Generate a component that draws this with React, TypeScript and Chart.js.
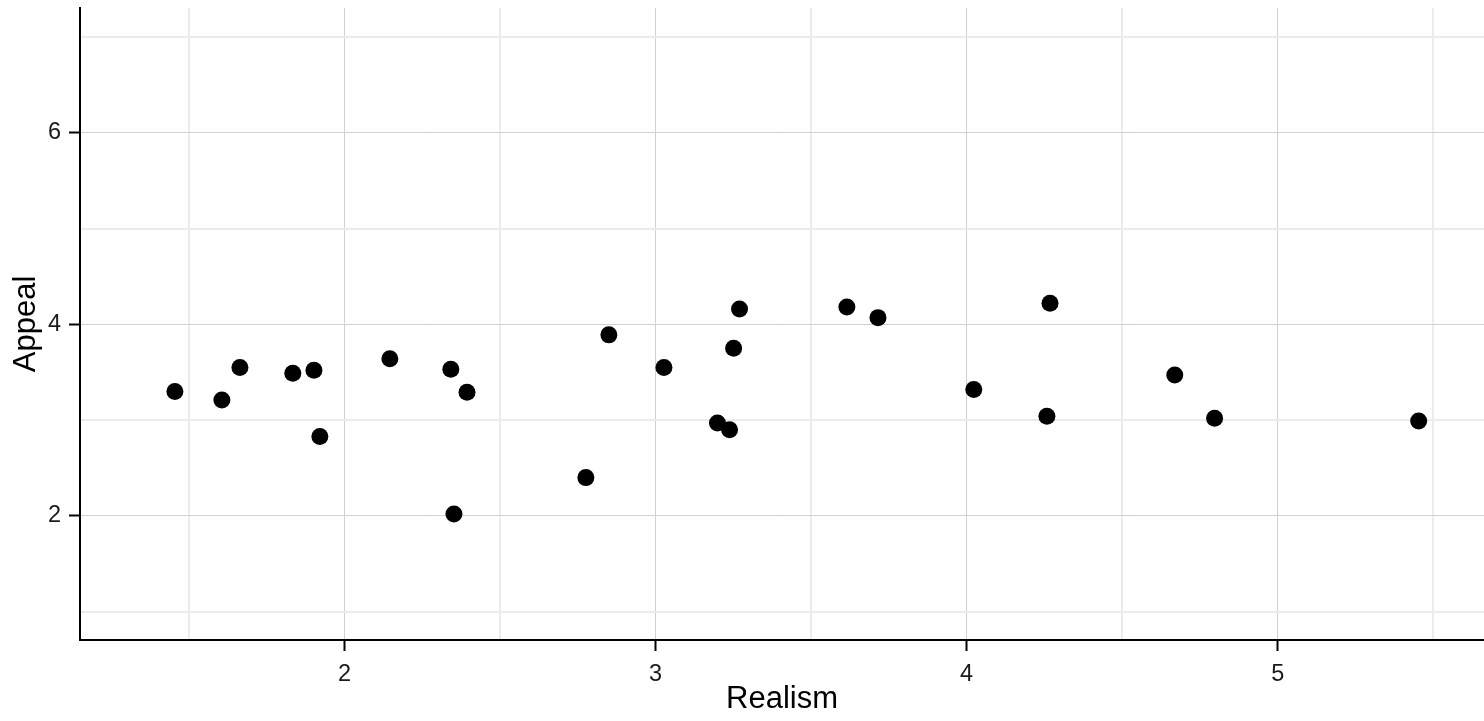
import React, { useEffect, useRef } from "react";
import { Chart, registerables } from "chart.js";

Chart.register(...registerables);

const realism: number[] = [
  1.455, 1.606, 1.664, 1.834, 1.902, 1.921, 2.146, 2.342, 2.352, 2.394,
  2.776, 2.85, 3.027, 3.199, 3.238, 3.251, 3.27, 3.615, 3.715, 4.023,
  4.258, 4.268, 4.669, 4.797, 5.453,
];
const appeal: number[] = [
  3.3, 3.21, 3.55, 3.49, 3.52, 2.83, 3.64, 3.53, 2.02, 3.29,
  2.4, 3.89, 3.55, 2.97, 2.9, 3.75, 4.16, 4.18, 4.07, 3.32,
  3.04, 4.22, 3.47, 3.02, 2.99,
];
const xTickLabels: number[] = [2, 3, 4, 5];
const yTickLabels: number[] = [2, 4, 6];
const xTitle = "Realism";
const yTitle = "Appeal";

const FONT = "'Liberation Sans', Arial, Helvetica, sans-serif";
const MAJOR = "#d0d0d0";
const MINOR = "#ebebeb";

function isIn(list: number[], v: number) {
  return list.some((t) => Math.abs(t - v) < 1e-6);
}

export default function App() {
  const ref = useRef<HTMLCanvasElement | null>(null);

  useEffect(() => {
    if (!ref.current) return;
    const points = realism.map((x, i) => ({ x, y: appeal[i] }));
    const chart = new Chart(ref.current, {
      type: "scatter",
      data: {
        datasets: [
          {
            data: points,
            backgroundColor: "#000000",
            borderWidth: 0,
            pointRadius: 8.5,
            pointHoverRadius: 8.5,
          },
        ],
      },
      options: {
        animation: false,
        responsive: false,
        layout: { autoPadding: false, padding: { top: 8, left: 0, right: 0, bottom: 0 } },
        plugins: {
          legend: { display: false },
          tooltip: { enabled: false },
        },
        scales: {
          x: {
            type: "linear",
            min: 1.15,
            max: 5.663,
            afterFit: (s: any) => {
              s.height = 81;
              s.paddingLeft = 0;
              s.paddingRight = 0;
            },
            border: { color: "#000000", width: 2 },
            grid: {
              color: (ctx: any) => (isIn(xTickLabels, ctx.tick?.value) ? MAJOR : MINOR),
              lineWidth: (ctx: any) => (isIn(xTickLabels, ctx.tick?.value) ? 1 : 2),
              tickColor: (ctx: any) => (isIn(xTickLabels, ctx.tick?.value) ? "#000000" : "rgba(0,0,0,0)"),
              tickLength: 11,
              tickWidth: 2,
            },
            ticks: {
              stepSize: 0.5,
              includeBounds: false,
              autoSkip: false,
              maxRotation: 0,
              padding: 9,
              color: "#1a1a1a",
              font: { family: FONT, size: 23.5 },
              callback: (v: any) => (isIn(xTickLabels, Number(v)) ? String(Number(v)) : ""),
            },
            title: {
              display: true,
              text: xTitle,
              color: "#000000",
              font: { family: FONT, size: 31 },
              padding: { top: 0, bottom: 3 },
            },
          },
          y: {
            type: "linear",
            min: 0.705,
            max: 7.302,
            afterFit: (s: any) => {
              s.width = 80;
              s.paddingTop = 0;
              s.paddingBottom = 0;
            },
            border: { color: "#000000", width: 2 },
            grid: {
              color: (ctx: any) => (isIn(yTickLabels, ctx.tick?.value) ? MAJOR : MINOR),
              lineWidth: (ctx: any) => (isIn(yTickLabels, ctx.tick?.value) ? 1 : 2),
              tickColor: (ctx: any) => (isIn(yTickLabels, ctx.tick?.value) ? "#000000" : "rgba(0,0,0,0)"),
              tickLength: 11,
              tickWidth: 2,
            },
            ticks: {
              stepSize: 1,
              includeBounds: false,
              autoSkip: false,
              padding: 8,
              color: "#1a1a1a",
              font: { family: FONT, size: 23.5 },
              callback: (v: any) => (isIn(yTickLabels, Number(v)) ? String(Number(v)) : ""),
            },
            title: {
              display: true,
              text: yTitle,
              color: "#000000",
              font: { family: FONT, size: 31 },
              padding: { top: 8, bottom: 0 },
            },
          },
        },
      },
    } as any);
    return () => chart.destroy();
  }, []);

  return (
    <div style={{ position: "absolute", left: 0, top: 0, width: 1484, height: 721, background: "#ffffff" }}>
      <canvas ref={ref} width={1484} height={721} style={{ display: "block", width: 1484, height: 721 }} />
    </div>
  );
}
